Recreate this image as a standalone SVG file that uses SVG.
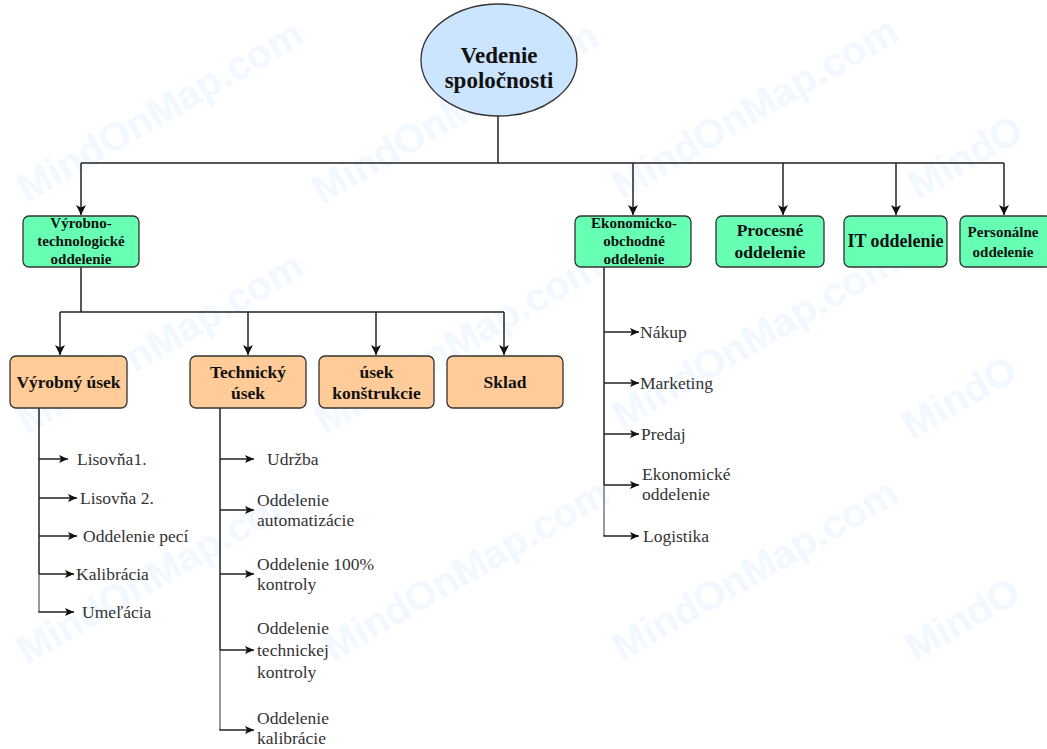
<svg xmlns="http://www.w3.org/2000/svg" width="1047" height="749" viewBox="0 0 1047 749">
<style>
.wm{font-family:"Liberation Sans","DejaVu Sans",sans-serif;font-weight:bold;font-size:40px;fill:#f1f8ff}
.ln{stroke:#222;stroke-width:1.5;fill:none}
.lg{stroke:#777;stroke-width:1.5;fill:none}
.l1{fill:#66ffb3;stroke:#333;stroke-width:1.3}
.l2{fill:#ffcc99;stroke:#333;stroke-width:1.3}
.bt{font-weight:bold;fill:#111;text-anchor:middle}
.lf{font-size:17.5px;fill:#333}
</style>
<defs>
<marker id="a" markerUnits="userSpaceOnUse" markerWidth="11" markerHeight="11" refX="10" refY="5.5" orient="auto"><path d="M0,0.5 L10,5.5 L0,10.5 L2.5,5.5 z" fill="#111"/></marker>
<marker id="b" markerUnits="userSpaceOnUse" markerWidth="10" markerHeight="9" refX="9" refY="4.5" orient="auto"><path d="M0,0.5 L9,4.5 L0,8.5 L2,4.5 z" fill="#111"/></marker>
</defs>
<rect width="1047" height="749" fill="#fff"/>
<g id="watermark">
<text class="wm" transform="translate(27,203) rotate(-30)">MindOnMap.com</text>
<text class="wm" transform="translate(322,205) rotate(-30)">MindOnMap.com</text>
<text class="wm" transform="translate(622,200) rotate(-30)">MindOnMap.com</text>
<text class="wm" transform="translate(918,200) rotate(-30)">MindO</text>
<text class="wm" transform="translate(27,435) rotate(-30)">MindOnMap.com</text>
<text class="wm" transform="translate(325,435) rotate(-30)">MindOnMap.com</text>
<text class="wm" transform="translate(622,430) rotate(-30)">MindOnMap.com</text>
<text class="wm" transform="translate(912,440) rotate(-30)">MindO</text>
<text class="wm" transform="translate(27,665) rotate(-30)">MindOnMap.com</text>
<text class="wm" transform="translate(333,662) rotate(-30)">MindOnMap.com</text>
<text class="wm" transform="translate(622,662) rotate(-30)">MindOnMap.com</text>
<text class="wm" transform="translate(915,662) rotate(-30)">MindO</text>
</g>
<g id="connectors">
<path class="ln" d="M498,116 V163 M81,163 H1004"/>
<path class="ln" d="M81,163 V215" marker-end="url(#a)"/>
<path class="ln" d="M633,163 V215" marker-end="url(#a)"/>
<path class="ln" d="M783,163 V215" marker-end="url(#a)"/>
<path class="ln" d="M896,163 V215" marker-end="url(#a)"/>
<path class="ln" d="M1004,163 V215" marker-end="url(#a)"/>
<path class="ln" d="M81,267 V312 M60,312 H504"/>
<path class="ln" d="M60,312 V355" marker-end="url(#a)"/>
<path class="ln" d="M248,312 V355" marker-end="url(#a)"/>
<path class="ln" d="M376,312 V355" marker-end="url(#a)"/>
<path class="ln" d="M504,312 V355" marker-end="url(#a)"/>
<path class="ln" d="M39,408 V574"/>
<path class="lg" d="M39,574 V612"/>
<path class="ln" d="M39,459 H68" marker-end="url(#b)"/>
<path class="ln" d="M39,498 H77" marker-end="url(#b)"/>
<path class="ln" d="M39,536 H77" marker-end="url(#b)"/>
<path class="ln" d="M39,574 H74" marker-end="url(#b)"/>
<path class="ln" d="M38.3,612 H74" marker-end="url(#b)"/>
<path class="ln" d="M220,408 V650"/>
<path class="lg" d="M220,650 V730"/>
<path class="ln" d="M220,459 H254" marker-end="url(#b)"/>
<path class="ln" d="M220,510 H254" marker-end="url(#b)"/>
<path class="ln" d="M220,574 H254" marker-end="url(#b)"/>
<path class="ln" d="M220,650 H254" marker-end="url(#b)"/>
<path class="ln" d="M219.3,730 H254" marker-end="url(#b)"/>
<path class="ln" d="M604,267 V485"/>
<path class="lg" d="M604,485 V536"/>
<path class="ln" d="M604,332 H639" marker-end="url(#b)"/>
<path class="ln" d="M604,383 H639" marker-end="url(#b)"/>
<path class="ln" d="M604,434 H639" marker-end="url(#b)"/>
<path class="ln" d="M604,485 H639" marker-end="url(#b)"/>
<path class="ln" d="M603.3,536 H639" marker-end="url(#b)"/>
</g>
<g font-family="Liberation Serif, Times New Roman, DejaVu Serif, serif">
<g id="n-root">
<ellipse cx="499" cy="60" rx="78" ry="56" fill="#cce5ff" stroke="#333" stroke-width="1.3"/>
<text class="bt" font-size="23" x="499" y="63">Vedenie</text>
<text class="bt" font-size="23" x="499" y="88">spoločnosti</text>
</g>
<g id="n-vyrobno">
<rect class="l1" x="23" y="216" width="116" height="51" rx="6"/>
<text class="bt" font-size="15" x="81" y="228">Výrobno-</text>
<text class="bt" font-size="15" x="81" y="246">technologické</text>
<text class="bt" font-size="15" x="81" y="264">oddelenie</text>
</g>
<g id="n-ekon">
<rect class="l1" x="575" y="216" width="116" height="51" rx="6"/>
<text class="bt" font-size="15" x="634" y="228">Ekonomicko-</text>
<text class="bt" font-size="15" x="634" y="246">obchodné</text>
<text class="bt" font-size="15" x="634" y="264">oddelenie</text>
</g>
<g id="n-proces">
<rect class="l1" x="716" y="216" width="108" height="51" rx="6"/>
<text class="bt" font-size="17.5" x="770" y="236">Procesné</text>
<text class="bt" font-size="17.5" x="770" y="258">oddelenie</text>
</g>
<g id="n-it">
<rect class="l1" x="844" y="216" width="103" height="51" rx="6"/>
<text class="bt" font-size="18" x="895.5" y="247">IT oddelenie</text>
</g>
<g id="n-person">
<rect class="l1" x="960" y="216" width="92" height="51" rx="6"/>
<text class="bt" font-size="15" x="1003" y="237">Personálne</text>
<text class="bt" font-size="15" x="1003" y="257">oddelenie</text>
</g>
<g id="n-vyrobny">
<rect class="l2" x="10" y="356" width="117" height="52" rx="6"/>
<text class="bt" font-size="17.5" x="68.5" y="388">Výrobný úsek</text>
</g>
<g id="n-technicky">
<rect class="l2" x="190" y="356" width="116" height="52" rx="6"/>
<text class="bt" font-size="17.5" x="248" y="378">Technický</text>
<text class="bt" font-size="17.5" x="248" y="399">úsek</text>
</g>
<g id="n-konstrukcie">
<rect class="l2" x="319" y="356" width="115" height="52" rx="6"/>
<text class="bt" font-size="17.5" x="376.5" y="378">úsek</text>
<text class="bt" font-size="17.5" x="376.5" y="399">konštrukcie</text>
</g>
<g id="n-sklad">
<rect class="l2" x="447" y="356" width="116" height="52" rx="6"/>
<text class="bt" font-size="17.5" x="505" y="388">Sklad</text>
</g>
<g id="leaves-vyrobny">
<text class="lf" x="77" y="465">Lisovňa1.</text>
<text class="lf" x="80" y="504">Lisovňa 2.</text>
<text class="lf" x="83" y="542">Oddelenie pecí</text>
<text class="lf" x="76" y="580">Kalibrácia</text>
<text class="lf" x="82" y="618">Umeľácia</text>
</g>
<g id="leaves-technicky">
<text class="lf" x="267" y="465">Udržba</text>
<text class="lf" x="257" y="506">Oddelenie</text>
<text class="lf" x="257" y="526">automatizácie</text>
<text class="lf" x="257" y="570">Oddelenie 100%</text>
<text class="lf" x="257" y="590">kontroly</text>
<text class="lf" x="257" y="634">Oddelenie</text>
<text class="lf" x="257" y="656">technickej</text>
<text class="lf" x="257" y="678">kontroly</text>
<text class="lf" x="257" y="724">Oddelenie</text>
<text class="lf" x="257" y="744">kalibrácie</text>
</g>
<g id="leaves-ekon">
<text class="lf" x="640" y="338">Nákup</text>
<text class="lf" x="640" y="389">Marketing</text>
<text class="lf" x="641" y="440">Predaj</text>
<text class="lf" x="642" y="480">Ekonomické</text>
<text class="lf" x="642" y="500">oddelenie</text>
<text class="lf" x="643" y="542">Logistika</text>
</g>
</g>
</svg>
